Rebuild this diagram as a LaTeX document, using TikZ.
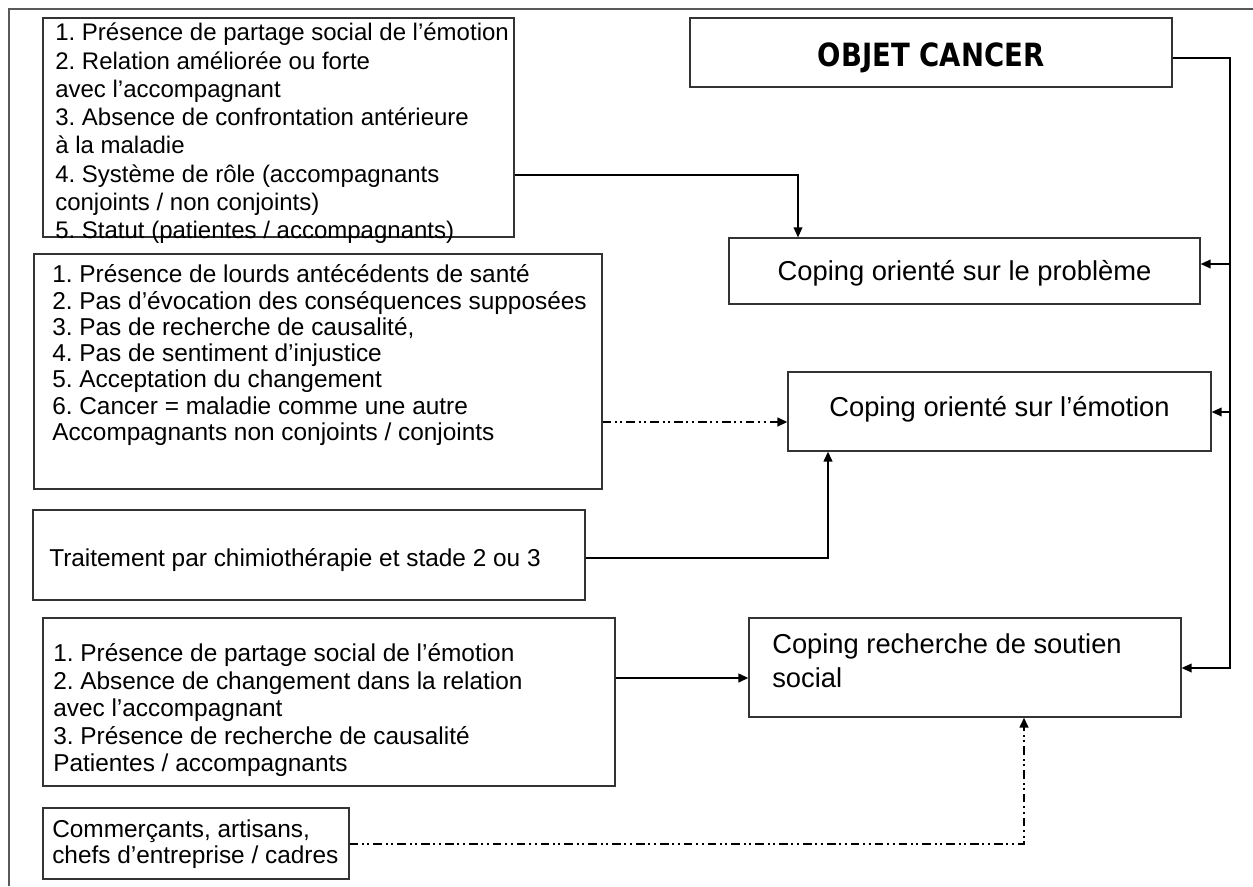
\documentclass[tikz,border=0pt]{standalone}
\usepackage{fontspec}
\setmainfont{Liberation Sans}
\newfontfamily\ocfont{DejaVu Sans}
\usetikzlibrary{arrows.meta,fit}
\frenchspacing
\begin{document}
\frenchspacing
\begin{tikzpicture}[x=0.75pt,y=-0.75pt,
  box/.style={draw=black!80, line width=0.9pt, inner sep=0pt, fill=white},
  ltxt/.style={anchor=north west, inner sep=0pt, align=left},
  ctxt/.style={anchor=base, inner sep=0pt},
  cop/.style={font=\fontsize{20.5}{25.5}\selectfont},
  tip/.style={-{Triangle[length=7.5pt,width=6.5pt]}},
  conn/.style={line width=1.1pt, black},
  ddash/.style={line width=1.6pt, black, dash pattern=on 6.5pt off 2.7pt on 1.5pt off 2.7pt on 1.5pt off 3pt}]
\useasboundingbox (0,0) rectangle (1253,886);
% outer frame
\draw[black!65, line width=1pt] (9,886) -- (9,9) -- (1253,9);

% boxes
\node[box, fit={(43,18) (514,237)}] (b1) {};
\node[box, fit={(34,254) (602,489)}] (b2) {};
\node[box, fit={(33,510) (585,600)}] (b3) {};
\node[box, fit={(43,618) (615,786)}] (b4) {};
\node[box, fit={(43,808) (349,879)}] (b5) {};
\node[box, fit={(690,18) (1172,87)}] (oc) {};
\node[box, fit={(729,238) (1200,304)}] (pb) {};
\node[box, fit={(788,372) (1211,451)}] (em) {};
\node[box, fit={(749,618) (1181,717)}] (rs) {};

% texts
\node[ctxt, font=\fontsize{24}{28}\ocfont\bfseries] (t0) at (931,66.7) {\scalebox{0.86}[1]{OBJET CANCER}};
\node[ctxt, cop] (tp) at (964.5,280.8) {Coping orienté sur le problème};
\node[ctxt, cop] (te) at (999.5,416.8) {Coping orienté sur l’émotion};
\node[ltxt, font=\fontsize{18}{21.2}\selectfont] (t1) at (55,20.8) {%
\strut 1. Présence de partage social de l’émotion\\
\strut 2. Relation améliorée ou forte\\
\strut avec l’accompagnant\\
\strut 3. Absence de confrontation antérieure\\
\strut à la maladie\\
\strut 4. Système de rôle (accompagnants\\
\strut conjoints / non conjoints)\\
\strut 5. Statut (patientes / accompagnants)};
\node[ltxt, font=\fontsize{18.3}{19.7}\selectfont] (t2) at (52,264.2) {%
\strut 1. Présence de lourds antécédents de santé\\
\strut 2. Pas d’évocation des conséquences supposées\\
\strut 3. Pas de recherche de causalité,\\
\strut 4. Pas de sentiment d’injustice\\
\strut 5. Acceptation du changement\\
\strut 6. Cancer = maladie comme une autre\\
\strut Accompagnants non conjoints / conjoints};
\node[anchor=base west, inner sep=0pt, font=\fontsize{18.3}{21}\selectfont] (t3) at (49,566.6) {Traitement par chimiothérapie et stade 2 ou 3};
\node[ltxt, font=\fontsize{18.3}{20.6}\selectfont] (t4) at (53,642.4) {%
\strut 1. Présence de partage social de l’émotion\\
\strut 2. Absence de changement dans la relation\\
\strut avec l’accompagnant\\
\strut 3. Présence de recherche de causalité\\
\strut Patientes / accompagnants};
\node[ltxt, font=\fontsize{18.3}{19.5}\selectfont] (t5) at (52,819.4) {%
\strut Commerçants, artisans,\\
\strut chefs d’entreprise / cadres};
\node[ltxt, cop] (t6) at (772,629) {%
\strut Coping recherche de soutien\\
\strut social};

% bend points
\coordinate (k1) at (798,175);
\coordinate (k2) at (1230,58);
\coordinate (k3) at (1230,668);
\coordinate (k4) at (1230,264);
\coordinate (k5) at (1230,412);
\coordinate (k6) at (700,422);
\coordinate (k7) at (828,558);
\coordinate (k8) at (700,678);
\coordinate (k9) at (1024,844);

% connectors
\draw[conn, tip] (b1.east |- k1) -- (k1) -- (k1 |- pb.north);
\draw[conn, tip] (oc.east |- k2) -- (k2) -- (k3) -- (rs.east |- k3);
\draw[conn, tip] (k4) -- (pb.east |- k4);
\draw[conn, tip] (k5) -- (em.east |- k5);
\draw[ddash, tip] (b2.east |- k6) -- (em.west |- k6);
\draw[conn, line width=1.5pt, tip] (b3.east |- k7) -- (k7) -- (k7 |- em.south);
\draw[conn, line width=1.5pt, tip] (b4.east |- k8) -- (rs.west |- k8);
\draw[ddash, tip] (b5.east |- k9) -- (k9) -- (k9 |- rs.south);
\end{tikzpicture}
\end{document}
